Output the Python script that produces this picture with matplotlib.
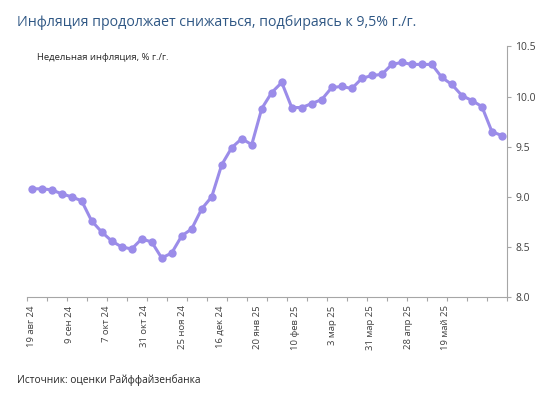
import numpy as np
import matplotlib
matplotlib.use("Agg")
import matplotlib.pyplot as plt

# ------------------------------------------------------------
# data (weekly y/y inflation, %)
# ------------------------------------------------------------
TITLE = "Инфляция продолжает снижаться, подбираясь к 9,5% г./г."
SUBTITLE = "Недельная инфляция, % г./г."
SOURCE = "Источник: оценки Райффайзенбанка"

values = [9.08, 9.08, 9.07, 9.03, 9.00, 8.96, 8.76, 8.65, 8.56, 8.50,
          8.48, 8.58, 8.55, 8.39, 8.44, 8.61, 8.68, 8.88, 9.00, 9.32,
          9.49, 9.58, 9.52, 9.88, 10.04, 10.14, 9.89, 9.89, 9.93, 9.97,
          10.09, 10.10, 10.08, 10.18, 10.21, 10.22, 10.32, 10.34, 10.32, 10.32,
          10.32, 10.19, 10.12, 10.01, 9.96, 9.90, 9.65, 9.61]

date_labels = ["19 авг 24", "9 сен 24", "7 окт 24", "31 окт 24", "25 ноя 24",
               "16 дек 24", "20 янв 25", "10 фев 25", "3 мар 25", "31 мар 25",
               "28 апр 25", "19 май 25"]

y_ticks = [8.0, 8.5, 9.0, 9.5, 10.0, 10.5]

LINE_COLOR = "#9b8ce9"
TITLE_COLOR = "#2f5784"
TEXT_COLOR = "#404040"
AXIS_COLOR = "#a6a6a6"

plt.rcParams["font.family"] = ["Open Sans", "DejaVu Sans"]

fig = plt.figure(figsize=(5.54, 3.93), dpi=100)
ax = fig.add_axes([0.048, 0.244, 0.867, 0.638])

x = np.arange(len(values))
ax.plot(x, values, color=LINE_COLOR, lw=2.2, marker="o", ms=6,
        markeredgewidth=0, solid_joinstyle="round")

ax.set_xlim(-0.5, len(values) - 0.5)
ax.set_ylim(8.0, 10.5)

# y axis on the right
ax.yaxis.tick_right()
ax.set_yticks(y_ticks)
ax.set_yticklabels([f"{v:.1f}" for v in y_ticks])
ax.tick_params(axis="y", direction="out", length=3, width=0.8,
               color=AXIS_COLOR, labelsize=7.5, labelcolor=TEXT_COLOR, pad=3)

# x axis: tick marks every 2 weeks, labels spread evenly
ax.set_xticks(np.arange(-0.5, len(values), 2), minor=True)
ax.set_xticks(np.linspace(0, 41.4, len(date_labels)))
ax.set_xticklabels(date_labels, rotation=90, va="top", ha="center")
ax.tick_params(axis="x", which="major", length=0, labelsize=6.8,
               labelcolor=TEXT_COLOR, pad=6)
ax.tick_params(axis="x", which="minor", direction="out", length=3,
               width=0.8, color=AXIS_COLOR)

for side in ("top", "left"):
    ax.spines[side].set_visible(False)
for side in ("bottom", "right"):
    ax.spines[side].set_color(AXIS_COLOR)
    ax.spines[side].set_linewidth(0.8)

fig.text(17 / 554, 1 - 22 / 393, TITLE, fontsize=10.2, color=TITLE_COLOR,
         va="center", ha="left")
fig.text(37 / 554, 1 - 58 / 393, SUBTITLE, fontsize=6.8, color="#262626",
         va="center", ha="left")
fig.text(17 / 554, 1 - 380 / 393, SOURCE, fontsize=7.3, color="#262626",
         va="center", ha="left")

fig.savefig("out.png", dpi=100)
